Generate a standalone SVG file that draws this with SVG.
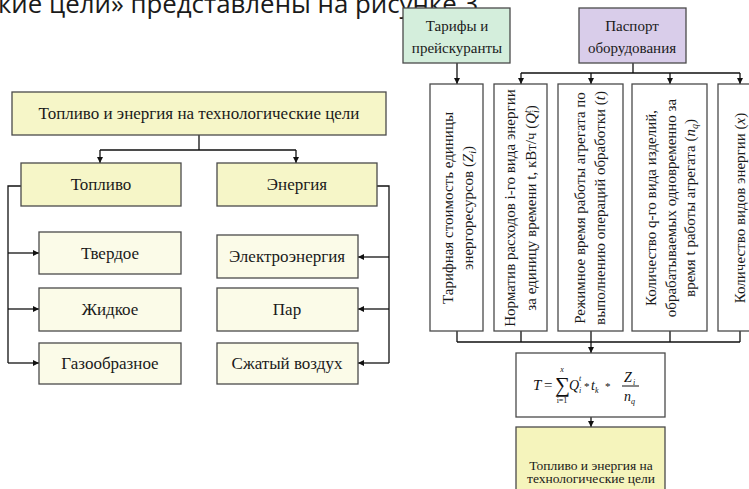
<svg xmlns="http://www.w3.org/2000/svg" width="749" height="489" viewBox="0 0 749 489">
<defs>
<style>
.b{stroke:#4a4a4a;stroke-width:1.3}
.y{fill:#f6f6c8}
.p{fill:#fbfbe8}
.w{fill:#ffffff}
.t{font-family:'Liberation Serif','DejaVu Serif',serif;font-size:17px;fill:#1a1a1a;text-anchor:middle}
.s{font-family:'Liberation Serif','DejaVu Serif',serif;font-size:15px;fill:#1a1a1a;text-anchor:middle}
.v{font-family:'Liberation Serif','DejaVu Serif',serif;font-size:15px;fill:#1a1a1a;text-anchor:middle}
.f{font-family:'Liberation Serif','DejaVu Serif',serif;font-style:italic;fill:#111}
.n{font-style:normal}
.c{fill:none;stroke:#111;stroke-width:1.3}
.a{marker-end:url(#ah)}
</style>
<marker id="ah" viewBox="0 0 10 10" refX="10" refY="5" markerWidth="6" markerHeight="8" orient="auto" markerUnits="userSpaceOnUse"><path d="M0,0 L10,5 L0,10 z" fill="#111"/></marker>
</defs>
<rect x="0" y="0" width="749" height="489" fill="#ffffff"/>
<text x="-2" y="13" font-family="'Open Sans','Noto Sans',sans-serif" font-size="26" fill="#1a1a1a" textLength="487" lengthAdjust="spacingAndGlyphs">кие цели» представлены на рисунке 3.</text>

<g id="connectors">
<path class="c" d="M199,135 V150 M100,150 H296"/>
<path class="c a" d="M100,150 V163"/>
<path class="c a" d="M296,150 V163"/>
<path class="c" d="M21,186 H8 V363"/>
<path class="c a" d="M8,253 H39"/>
<path class="c a" d="M8,309 H39"/>
<path class="c a" d="M8,363 H39"/>
<path class="c" d="M377,186 H389 V363"/>
<path class="c a" d="M389,257 H358"/>
<path class="c a" d="M389,309 H358"/>
<path class="c a" d="M389,363 H358"/>
<path class="c a" d="M457,63 V84"/>
<path class="c" d="M633,63 V73 M521,73 H740"/>
<path class="c a" d="M521,73 V84"/>
<path class="c a" d="M591,73 V84"/>
<path class="c a" d="M670,73 V84"/>
<path class="c a" d="M740,73 V84"/>
<path class="c" d="M457,331 V342 M521,331 V342 M670,331 V342 M740,331 V342 M457,342 H740"/>
<path class="c a" d="M591,331 V353"/>
<path class="c a" d="M591,417 V427"/>
</g>

<g id="n-top"><rect class="b y" x="12" y="92" width="374" height="43"/><text class="t" x="199" y="119">Топливо и энергия на технологические цели</text></g>
<g id="n-fuel"><rect class="b y" x="21" y="163" width="160" height="43"/><text class="t" x="101" y="190">Топливо</text></g>
<g id="n-energy"><rect class="b y" x="217" y="163" width="160" height="43"/><text class="t" x="297" y="190">Энергия</text></g>
<g id="n-solid"><rect class="b p" x="39" y="232" width="142" height="42"/><text class="t" x="110" y="259">Твердое</text></g>
<g id="n-liquid"><rect class="b p" x="39" y="288" width="142" height="43"/><text class="t" x="110" y="315">Жидкое</text></g>
<g id="n-gas"><rect class="b p" x="39" y="343" width="142" height="41"/><text class="t" x="110" y="369">Газообразное</text></g>
<g id="n-elec"><rect class="b p" x="217" y="235" width="141" height="43"/><text class="t" x="287" y="262">Электроэнергия</text></g>
<g id="n-steam"><rect class="b p" x="217" y="288" width="141" height="43"/><text class="t" x="287" y="315">Пар</text></g>
<g id="n-air"><rect class="b p" x="217" y="343" width="141" height="41"/><text class="t" x="287" y="369">Сжатый воздух</text></g>

<g id="n-tariffs"><rect class="b" fill="#d4eedc" x="403" y="8" width="107" height="55"/><text class="s" x="457" y="31">Тарифы и</text><text class="s" x="457" y="53">прейскуранты</text></g>
<g id="n-passport"><rect class="b" fill="#d9cdea" x="579" y="8" width="107" height="55"/><text class="s" x="632" y="31">Паспорт</text><text class="s" x="632" y="53">оборудования</text></g>

<g id="n-z"><rect class="b w" x="430" y="84" width="53" height="247"/>
<text class="v" transform="translate(453,208) rotate(-90)">Тарифная стоимость единицы</text>
<text class="v" transform="translate(473,208) rotate(-90)">энергоресурсов (<tspan font-style="italic">Z</tspan><tspan font-style="italic" font-size="10" dy="3">i</tspan><tspan dy="-3">)</tspan></text></g>
<g id="n-q"><rect class="b w" x="494" y="84" width="53" height="247"/>
<text class="v" transform="translate(515,208) rotate(-90)">Норматив расходов i-го вида энергии</text>
<text class="v" transform="translate(536,208) rotate(-90)">за единицу времени t, кВт/ч (<tspan font-style="italic">Q</tspan><tspan font-style="italic" font-size="10" dy="-5">t</tspan><tspan font-style="italic" font-size="10" dx="-3" dy="8">i</tspan><tspan dy="-3">)</tspan></text></g>
<g id="n-t"><rect class="b w" x="558" y="84" width="65" height="247"/>
<text class="v" transform="translate(585,208) rotate(-90)">Режимное время работы агрегата по</text>
<text class="v" transform="translate(605,208) rotate(-90)">выполнению операций обработки (<tspan font-style="italic">t</tspan>)</text></g>
<g id="n-n"><rect class="b w" x="632" y="84" width="75" height="247"/>
<text class="v" transform="translate(656,208) rotate(-90)">Количество q-го вида изделий,</text>
<text class="v" transform="translate(676,208) rotate(-90)">обрабатываемых одновременно за</text>
<text class="v" transform="translate(695,208) rotate(-90)">время t работы агрегата (<tspan font-style="italic">n</tspan><tspan font-style="italic" font-size="10" dy="3">q</tspan><tspan dy="-3">)</tspan></text></g>
<g id="n-x"><rect class="b w" x="718" y="84" width="40" height="247"/>
<text class="v" transform="translate(745,208) rotate(-90)">Количество видов энергии (<tspan font-style="italic">x</tspan>)</text></g>

<g id="n-formula"><rect class="b w" x="516" y="353" width="149" height="64"/>
<text class="f" font-size="15" x="533" y="390">T</text>
<text class="f n" font-size="15" x="544" y="390">=</text>
<text class="f n" font-size="21" x="555" y="392">∑</text>
<text class="f" font-size="8" x="562" y="372" text-anchor="middle">x</text>
<text class="f n" font-size="8" x="562" y="403" text-anchor="middle">i=1</text>
<text class="f" font-size="14" x="569" y="390">Q</text>
<text class="f" font-size="8" x="579" y="381">t</text>
<text class="f" font-size="8" x="579" y="393">i</text>
<text class="f n" font-size="11" x="584" y="390">*</text>
<text class="f" font-size="14" x="591" y="390">t</text>
<text class="f" font-size="8" x="595" y="393">k</text>
<text class="f n" font-size="11" x="605" y="390">*</text>
<text class="f" font-size="14" x="624" y="382">Z</text>
<text class="f" font-size="8" x="633" y="385">i</text>
<line x1="622" y1="386" x2="639" y2="386" stroke="#111" stroke-width="1"/>
<text class="f" font-size="14" x="624" y="401">n</text>
<text class="f" font-size="8" x="631" y="404">q</text>
</g>
<g id="n-result"><rect class="b" fill="#f5f4bc" x="516" y="427" width="149" height="70"/>
<text x="591" y="470" font-family="'Liberation Serif','DejaVu Serif',serif" font-size="13.5" fill="#1a1a1a" text-anchor="middle">Топливо и энергия на</text>
<text x="591" y="483" font-family="'Liberation Serif','DejaVu Serif',serif" font-size="13.5" fill="#1a1a1a" text-anchor="middle">технологические цели</text></g>
</svg>
